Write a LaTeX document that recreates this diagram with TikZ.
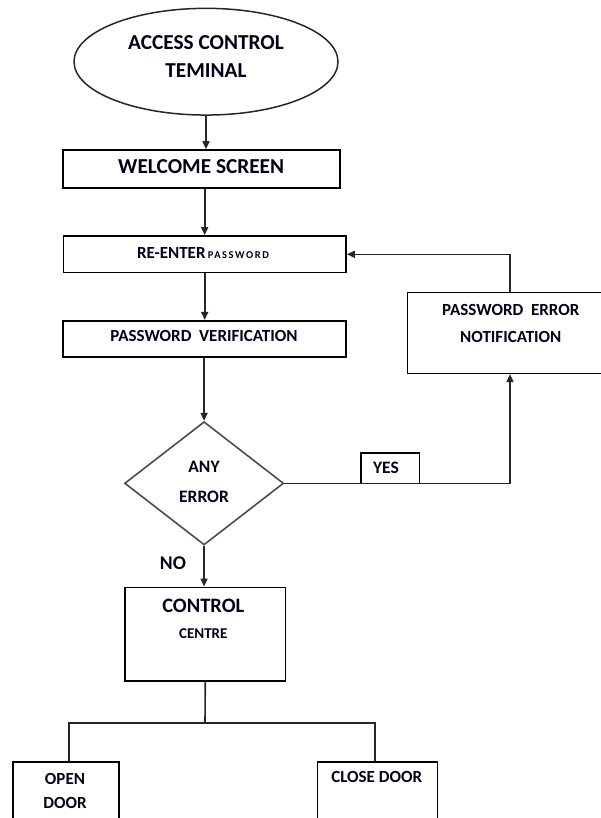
\documentclass[tikz,border=0pt]{standalone}
\usepackage{fontspec}
\setmainfont{Carlito}
\usetikzlibrary{arrows.meta,shapes.geometric,calc}
\begin{document}
\begin{tikzpicture}[x=1pt,y=-1pt,
  ln/.style={line width=1.6pt, draw=black!85},
  arr/.style={ln, -{Triangle[length=8pt,width=7pt]}},
  box/.style={draw=black, line width=1.6pt, rectangle, inner sep=0pt},
  txt/.style={inner sep=0pt, align=center, text=black!90!blue},
]
\useasboundingbox (0,0) rectangle (601,818);
\clip (0,0) rectangle (601,818);

% shapes
\node[ellipse, draw=black!85, line width=1.5pt, minimum width=264pt, minimum height=106.7pt, inner sep=0pt] (term) at (206,61.7) {};
\node[box, minimum width=277pt, minimum height=38pt] (welcome) at (201.5,169) {};
\node[box, minimum width=282.7pt, minimum height=36.7pt] (reenter) at (204.7,254.3) {};
\node[box, minimum width=283pt, minimum height=36pt] (verif) at (204.5,338.7) {};
\node[box, minimum width=212.7pt, minimum height=81pt] (notif) at (513.7,332.8) {};
\node[diamond, draw=black!70, line width=1.6pt, inner sep=0pt, minimum width=159pt, minimum height=123.3pt] (dec) at (204.1,483.3) {};
\node[box, minimum width=58.7pt, minimum height=30.6pt] (yes) at (390.3,468) {};
\node[box, minimum width=160.7pt, minimum height=93.4pt] (control) at (205.3,634) {};
\node[box, minimum width=106.3pt, minimum height=78.3pt] (open) at (65.85,800.85) {};
\node[box, minimum width=120pt, minimum height=78.3pt] (close) at (377.3,800.85) {};

% texts
\node[txt, font=\bfseries\fontsize{21.3}{28}\selectfont] (termtxt) at (206,56.7) {ACCESS CONTROL\\TEMINAL};
\node[txt, font=\bfseries\fontsize{21.3}{26}\selectfont] (welcometxt) at (201.2,167) {WELCOME SCREEN};
\node[txt] (reentertxt) at (203,253.3) {{\bfseries\fontsize{17}{20}\selectfont RE-ENTER} {\bfseries\fontsize{10.5}{12}\selectfont\addfontfeature{LetterSpace=15}PASSWORD}};
\node[txt, font=\bfseries\fontsize{17}{22}\selectfont] (veriftxt) at (204,336) {PASSWORD\ \ VERIFICATION};
\node[txt, font=\bfseries\fontsize{17}{26.7}\selectfont] (notiftxt) at (510.8,323.3) {PASSWORD\ \ ERROR\\NOTIFICATION};
\node[txt, font=\bfseries\fontsize{17.5}{30}\selectfont] (dectxt) at (204,481.7) {ANY\\ERROR};
\node[txt, font=\bfseries\fontsize{17.5}{22}\selectfont] (yestxt) at (386,468.3) {YES};
\node[txt, font=\bfseries\fontsize{19.5}{24}\selectfont] (notxt) at (173,563.3) {NO};
\node[txt, font=\bfseries\fontsize{20.5}{24}\selectfont] (controltxt) at (203.3,606) {CONTROL};
\node[txt, font=\bfseries\fontsize{15}{18}\selectfont] (centretxt) at (203.3,633.3) {CENTRE};
\node[txt, font=\bfseries\fontsize{17}{23.7}\selectfont] (opentxt) at (65,790.85) {OPEN\\DOOR};
\node[txt, font=\bfseries\fontsize{17}{22}\selectfont] (closetxt) at (376.7,777) {CLOSE DOOR};

% helper coordinates
\coordinate (nx) at (510,0);
\coordinate (br) at (205,722.7);
\coordinate (ol) at (69,722.7);
\coordinate (cr) at (375,722.7);

% connectors
\draw[arr] (term.south) -- (term.south |- welcome.north);
\draw[arr] (reenter.north |- welcome.south) -- (reenter.north);
\draw[arr] (reenter.south) -- (reenter.south |- verif.north);
\draw[arr] (dec.north |- verif.south) -- (dec.north);
\draw[arr] (dec.south) -- (dec.south |- control.north);
\draw[arr] (dec.east) -- (dec.east -| nx) -- (nx |- notif.south);
\draw[arr] (nx |- notif.north) |- (reenter.east);
\draw[ln] (control.south) -- (br);
\draw[ln] (ol |- open.north) -- (ol) -- (cr) -- (cr |- close.north);
\end{tikzpicture}
\end{document}
